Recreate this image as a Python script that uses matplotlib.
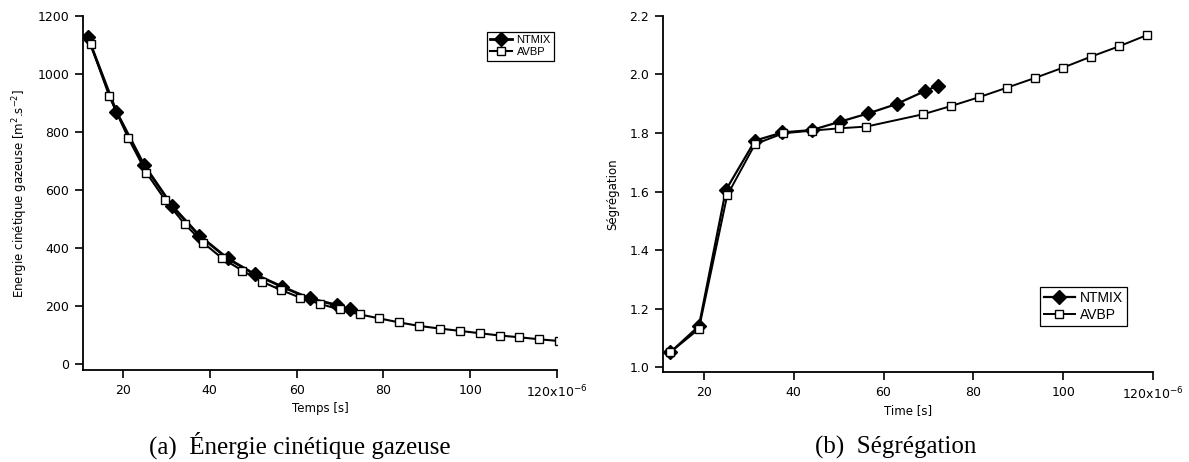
import numpy as np
import matplotlib
matplotlib.use('Agg')
import matplotlib.pyplot as plt

# (a) kinetic energy, time in 1e-6 s
ntmix_t_a = [11.9, 18.5, 24.8, 31.4, 37.6, 44.1, 50.4, 56.6, 63.0, 69.3, 72.2]
ntmix_e = [1128, 870, 688, 544, 443, 364, 309, 267, 226, 203, 188]
avbp_t_a = [12.6, 16.8, 21.2, 25.4, 29.8, 34.2, 38.5, 42.9, 47.5, 52.0, 56.4, 60.8,
            65.4, 69.9, 74.5, 79.1, 83.7, 88.3, 93.0, 97.6, 102.2, 106.8, 111.3,
            115.9, 120.5]
avbp_e = [1103, 926, 780, 660, 564, 483, 418, 364, 322, 284, 255, 229,
          207, 188, 171, 157, 143, 131, 122, 114, 106, 98, 92, 85, 79]

# (b) segregation
ntmix_t_b = [12.5, 18.9, 24.9, 31.4, 37.5, 44.0, 50.4, 56.6, 62.9, 69.3, 72.2]
ntmix_s = [1.050, 1.140, 1.605, 1.774, 1.802, 1.810, 1.839, 1.867, 1.899, 1.944, 1.962]
avbp_t_b = [12.5, 18.9, 25.2, 31.4, 37.7, 44.0, 50.2, 56.2, 68.8, 75.0, 81.2,
            87.5, 93.7, 99.9, 106.2, 112.4, 118.7]
avbp_s = [1.050, 1.130, 1.587, 1.762, 1.799, 1.808, 1.816, 1.822, 1.864, 1.892,
          1.922, 1.955, 1.988, 2.023, 2.061, 2.096, 2.135]

xticks = [20, 40, 60, 80, 100, 120]
xticklabels = ['20', '40', '60', '80', '100', '120x10$^{-6}$']

plt.rcParams['font.family'] = 'DejaVu Sans'
plt.rcParams['mathtext.default'] = 'regular'

fig = plt.figure(figsize=(11.89, 4.62), dpi=100)
ax1 = fig.add_axes([0.0698, 0.1991, 0.3987, 0.766])
ax2 = fig.add_axes([0.5576, 0.1948, 0.4121, 0.7706])


def style(ax):
    for s in ['top', 'right']:
        ax.spines[s].set_visible(False)
    for s in ['left', 'bottom']:
        ax.spines[s].set_linewidth(1.3)
    ax.tick_params(direction='out', length=6, width=1.2, labelsize=9, pad=4)
    ax.set_xticks(xticks)
    ax.set_xticklabels(xticklabels)


ax1.plot(ntmix_t_a, ntmix_e, color='black', lw=2.0, marker='D', ms=7,
         mfc='black', mec='black', label='NTMIX')
ax1.plot(avbp_t_a, avbp_e, color='black', lw=1.5, marker='s', ms=6,
         mfc='white', mec='black', mew=1.0, label='AVBP')
ax1.set_xlim(10.8, 120)
ax1.set_ylim(-21, 1200)
ax1.set_yticks(np.arange(0, 1201, 200))
style(ax1)
ax1.set_xlabel('Temps [s]', fontsize=8.5, labelpad=1)
ax1.set_ylabel('Energie cinétique gazeuse [m$^{2}$.s$^{-2}$]', fontsize=8.5, labelpad=5)
leg1 = ax1.legend(loc='upper right', bbox_to_anchor=(0.994, 0.956), borderaxespad=0,
                  fancybox=False, edgecolor='black', framealpha=1,
                  prop={'family': 'Liberation Sans', 'size': 8},
                  handlelength=2.0, handletextpad=0.4, borderpad=0.3, labelspacing=0.2)
leg1.get_frame().set_linewidth(0.9)

ax2.plot(ntmix_t_b, ntmix_s, color='black', lw=1.6, marker='D', ms=7,
         mfc='black', mec='black', label='NTMIX')
ax2.plot(avbp_t_b, avbp_s, color='black', lw=1.4, marker='s', ms=6,
         mfc='white', mec='black', mew=1.0, label='AVBP')
ax2.set_xlim(10.9, 120)
ax2.set_ylim(0.983, 2.2)
ax2.set_yticks(np.arange(1.0, 2.21, 0.2))
ax2.set_yticklabels(['%.1f' % v for v in np.arange(1.0, 2.21, 0.2)])
style(ax2)
ax2.set_xlabel('Time [s]', fontsize=8.5, labelpad=1)
ax2.set_ylabel('Ségrégation', fontsize=8.5, labelpad=7)
leg2 = ax2.legend(loc='upper right', bbox_to_anchor=(0.948, 0.240), borderaxespad=0,
                  fancybox=False, edgecolor='black', framealpha=1,
                  prop={'family': 'Liberation Sans', 'size': 10},
                  handlelength=2.2, handletextpad=0.4, borderpad=0.3, labelspacing=0.2)
leg2.get_frame().set_linewidth(0.9)

fig.text(300 / 1189, 1 - 454 / 462, '(a)  Énergie cinétique gazeuse', ha='center',
         va='baseline', family='Liberation Serif', fontsize=18)
fig.text(896 / 1189, 1 - 454 / 462, '(b)  Ségrégation', ha='center',
         va='baseline', family='Liberation Serif', fontsize=18)

fig.savefig('out.png', dpi=100)
